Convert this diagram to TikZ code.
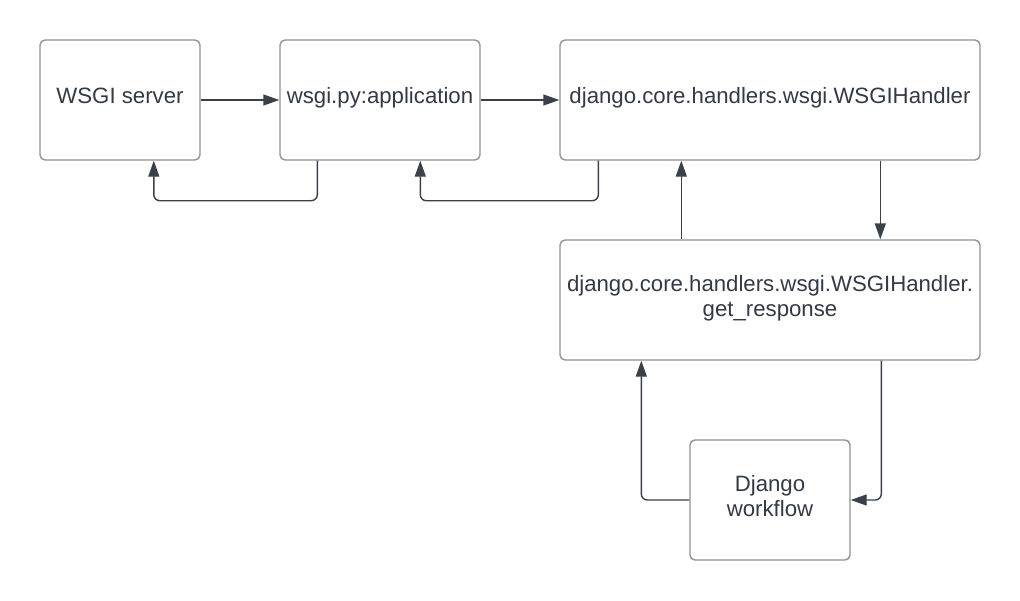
\documentclass[tikz,border=0pt]{standalone}
\usepackage{fontspec}
\setmainfont{Liberation Sans}
\usetikzlibrary{arrows.meta}
\definecolor{boxline}{HTML}{8E9196}
\definecolor{conline}{HTML}{3A414A}
\definecolor{txt}{HTML}{333A45}
\tikzset{
  box/.style={draw=boxline, line width=1.4pt, rounded corners=5pt, fill=white,
    text=txt, font=\fontsize{22.2}{25.5}\selectfont, align=center,
    inner sep=0pt, text height=16pt, text depth=10pt},
  box2/.style={box, text height=43pt, text depth=10pt},
  conn/.style={draw=conline, line width=1.4pt, rounded corners=6pt,
    -{Triangle[length=16pt,width=11pt]}}
}
\begin{document}
\begin{tikzpicture}[x=1pt,y=-1pt]
\useasboundingbox[fill=white] (0,0) rectangle (1020,600);
\node[box, minimum width=160pt, minimum height=120pt] (b1) at (120,100) {WSGI server};
\node[box, minimum width=200pt, minimum height=120pt] (b2) at (380,100) {wsgi.py:application};
\node[box, minimum width=420pt, minimum height=120pt] (b3) at (770,100) {django.core.handlers.wsgi.WSGIHandler};
\node[box2, minimum width=420pt, minimum height=120pt] (b4) at (770,300) {django.core.handlers.wsgi.WSGIHandler.\\get\_response};
\node[box2, minimum width=160pt, minimum height=120pt] (b5) at (770,500) {Django\\workflow};
\draw[conn] (b1.east) -- (b2.west);
\draw[conn] (b2.east) -- (b3.west);
\draw[conn] ([xshift=38pt]b2.south west) -- ++(0,40) -| ([xshift=114.5pt]b1.south west);
\draw[conn] ([xshift=39pt]b3.south west) -- ++(0,40) -| ([xshift=141pt]b2.south west);
\draw[conn] ([xshift=122pt]b4.north west) -- ([xshift=122pt]b3.south west);
\draw[conn] ([xshift=321pt]b3.south west) -- ([xshift=321pt]b4.north west);
\draw[conn] (b5.west) -| ([xshift=82pt]b4.south west);
\draw[conn] ([xshift=322pt]b4.south west) |- (b5.east);
\end{tikzpicture}
\end{document}
